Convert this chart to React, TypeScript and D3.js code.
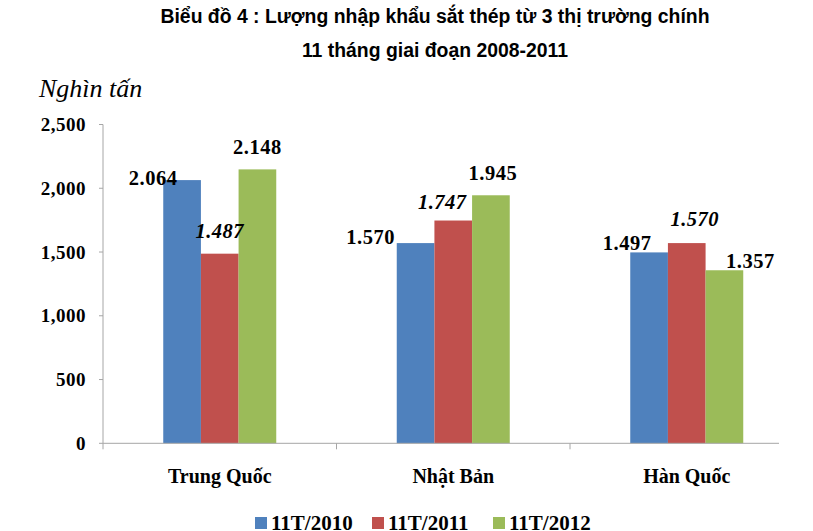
import React from "react";
import * as d3 from "d3";

const categories = ["Trung Quốc", "Nhật Bản", "Hàn Quốc"];
const seriesNames = ["11T/2010", "11T/2011", "11T/2012"];
const values2010 = [2064, 1570, 1497];
const values2011 = [1487, 1747, 1570];
const values2012 = [2148, 1945, 1357];
const labels2010 = ["2.064", "1.570", "1.497"];
const labels2011 = ["1.487", "1.747", "1.570"];
const labels2012 = ["2.148", "1.945", "1.357"];
const yTicks = [0, 500, 1000, 1500, 2000, 2500];
const yTickLabels = ["0", "500", "1,000", "1,500", "2,000", "2,500"];

const colors = ["#4F81BD", "#C0504D", "#9BBB59"];
// label offsets (dx, dy) relative to bar center/top — layout only
const labelOffsets = [
  [[-29, 5], [-45, 1], [-22, -2]],
  [[0, -16], [-11, -12], [8, -17]],
  [[0, -15], [2, -15], [26, -2]],
];

const W = 813, H = 531;
const left = 103, axisRight = 779, bandRight = 803.5;
const top = 124.5, bottom = 443.3;

export default function App() {
  React.useEffect(() => { document.body.style.margin = "0"; }, []);
  const values = [values2010, values2011, values2012];
  const labels = [labels2010, labels2011, labels2012];
  const y = d3.scaleLinear().domain([0, 2500]).range([bottom, top]);
  const x0 = d3.scaleBand<string>().domain(categories).range([left, bandRight]).padding(0);
  const bw = x0.bandwidth();
  const groupW = 113;
  const x1 = d3.scaleBand<string>().domain(seriesNames).range([bw / 2 - groupW / 2, bw / 2 + groupW / 2]).padding(0);
  const serif = "'Liberation Serif', 'Times New Roman', serif";
  const sans = "'Liberation Sans', Arial, sans-serif";
  const boundaries = [left, ...categories.slice(1).map((c) => x0(c)!)];
  const legendX = [255, 372, 493];
  return (
    <svg width={W} height={H} style={{ position: "absolute", left: 0, top: 0, background: "#fff" }}>
      <text x={435} y={22.5} textAnchor="middle" fontFamily={sans} fontWeight="bold" fontSize={19.4}>
        Biểu đồ 4 : Lượng nhập khẩu sắt thép từ 3 thị trường chính
      </text>
      <text x={435} y={56.5} textAnchor="middle" fontFamily={sans} fontWeight="bold" fontSize={19.4}>
        11 tháng giai đoạn 2008-2011
      </text>
      <text x={39} y={97} fontFamily={serif} fontStyle="italic" fontSize={26}>Nghìn tấn</text>

      {/* y axis */}
      <line x1={left} x2={left} y1={top} y2={bottom} stroke="#A6A6A6" strokeWidth={1} />
      {yTicks.map((t, i) => (
        <g key={t}>
          <line x1={left - 4} x2={left} y1={y(t)} y2={y(t)} stroke="#A6A6A6" />
          <text x={86} y={y(t) + 6.5} textAnchor="end" fontFamily={serif} fontWeight="bold" fontSize={19} letterSpacing={0.5}>
            {yTickLabels[i]}
          </text>
        </g>
      ))}

      {/* bars */}
      {seriesNames.map((s, si) =>
        categories.map((c, ci) => (
          <rect key={s + c} x={x0(c)! + x1(s)!} y={y(values[si][ci])} width={x1.bandwidth()} height={bottom - y(values[si][ci])} fill={colors[si]} />
        ))
      )}

      {/* x axis */}
      <line x1={left} x2={axisRight} y1={bottom} y2={bottom} stroke="#A6A6A6" strokeWidth={1} />
      {boundaries.map((b, i) => (
        <line key={i} x1={b} x2={b} y1={bottom} y2={bottom + 6} stroke="#A6A6A6" />
      ))}
      {categories.map((c) => (
        <text key={c} x={x0(c)! + bw / 2} y={483} textAnchor="middle" fontFamily={serif} fontWeight="bold" fontSize={20}>
          {c}
        </text>
      ))}

      {/* data labels */}
      {seriesNames.map((s, si) =>
        categories.map((c, ci) => (
          <text
            key={"l" + s + c}
            x={x0(c)! + x1(s)! + x1.bandwidth() / 2 + labelOffsets[si][ci][0]}
            y={y(values[si][ci]) + labelOffsets[si][ci][1]}
            textAnchor="middle"
            fontFamily={serif}
            fontWeight="bold"
            fontStyle={si === 1 ? "italic" : "normal"}
            fontSize={20.5}
            letterSpacing={0.5}
          >
            {labels[si][ci]}
          </text>
        ))
      )}

      {/* legend */}
      {seriesNames.map((s, si) => (
        <g key={"lg" + s}>
          <rect x={legendX[si]} y={517} width={12} height={12} fill={colors[si]} />
          <text x={legendX[si] + 16} y={530} fontFamily={serif} fontWeight="bold" fontSize={21}>{s}</text>
        </g>
      ))}
    </svg>
  );
}
